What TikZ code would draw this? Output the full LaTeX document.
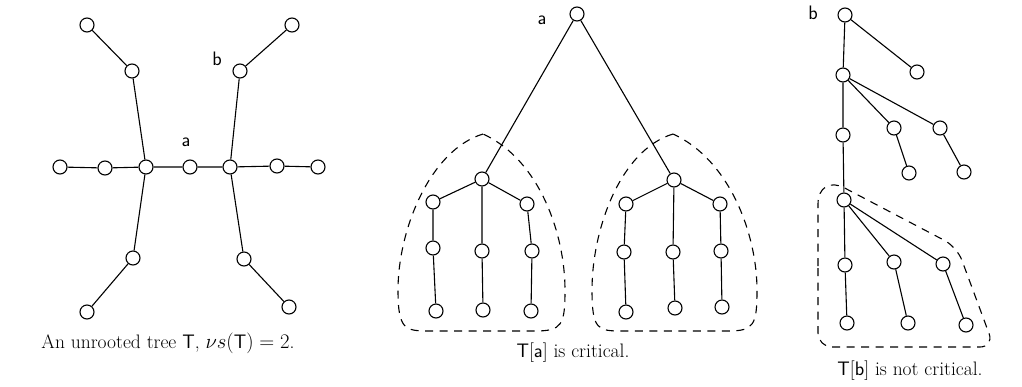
\documentclass[tikz,border=0pt]{standalone}
\begin{document}
\begin{tikzpicture}[x=1pt,y=-1pt,
  vtx/.style={circle,draw,line width=1.1pt,fill=white,minimum size=14pt,inner sep=0pt},
  edge/.style={line width=1.1pt},
  region/.style={line width=1.1pt,dash pattern=on 8pt off 6.5pt},
  lbl/.style={font=\fontsize{19.5}{23}\selectfont\sffamily},
  captxt/.style={font=\fontsize{19.5}{23}\selectfont}]
\useasboundingbox (0,0) rectangle (1022,386);
% ---------- left tree ----------
\node[vtx] (l1) at (87,25) {};
\node[vtx] (l2) at (132,71) {};
\node[vtx] (lh) at (146,167) {};
\node[vtx] (l3) at (60,167) {};
\node[vtx] (l4) at (105,168) {};
\node[vtx] (la) at (190,167) {};
\node[vtx] (rh) at (230,167) {};
\node[vtx] (r3) at (277,166) {};
\node[vtx] (r4) at (318,167) {};
\node[vtx] (r2) at (240,71) {};
\node[vtx] (r1) at (292,25) {};
\node[vtx] (l5) at (133,258) {};
\node[vtx] (l6) at (87,312) {};
\node[vtx] (r5) at (244,259) {};
\node[vtx] (r6) at (289,307) {};
\node[lbl] (tla) at (186,142) {a};
\node[lbl] (tlb) at (217,59) {b};
\draw[edge] (l1) -- (l2) -- (lh) -- (l5) -- (l6);
\draw[edge] (l3) -- (l4) -- (lh) -- (la) -- (rh) -- (r3) -- (r4);
\draw[edge] (r1) -- (r2) -- (rh) -- (r5) -- (r6);
\node[captxt] (c1) at (168,343) {An unrooted tree \textsf{T}, $\nu s(\textsf{T})=2$.};
% ---------- middle tree ----------
\node[vtx] (ma) at (577,14) {};
\node[lbl] (mal) at (542,20) {a};
\node[vtx] (A) at (482,179) {};
\node[vtx] (A1) at (433,202) {};
\node[vtx] (A2) at (482,251) {};
\node[vtx] (A3) at (527,204) {};
\node[vtx] (A1b) at (433,248) {};
\node[vtx] (A3b) at (532,251) {};
\node[vtx] (A1c) at (436,311) {};
\node[vtx] (A2c) at (483,310) {};
\node[vtx] (A3c) at (531,311) {};
\node[vtx] (B) at (674,180) {};
\node[vtx] (B1) at (626,204) {};
\node[vtx] (B2) at (673,252) {};
\node[vtx] (B3) at (720,204) {};
\node[vtx] (B1b) at (624,252) {};
\node[vtx] (B3b) at (721,251) {};
\node[vtx] (B1c) at (626,312) {};
\node[vtx] (B2c) at (675,308) {};
\node[vtx] (B3c) at (722,307) {};
\draw[edge] (ma) -- (A); \draw[edge] (ma) -- (B);
\draw[edge] (A) -- (A1) -- (A1b) -- (A1c);
\draw[edge] (A) -- (A2) -- (A2c);
\draw[edge] (A) -- (A3) -- (A3b) -- (A3c);
\draw[edge] (B) -- (B1) -- (B1b) -- (B1c);
\draw[edge] (B) -- (B2) -- (B2c);
\draw[edge] (B) -- (B3) -- (B3b) -- (B3c);
\draw[region] (483,134) .. controls (430,150) and (398,230) .. (398,290)
  .. controls (398,330) and (405,331) .. (430,331) -- (535,331)
  .. controls (562,331) and (565,325) .. (565,290)
  .. controls (565,235) and (540,160) .. cycle;
\draw[region] (673,134) .. controls (620,150) and (592,230) .. (592,290)
  .. controls (592,330) and (598,331) .. (622,331) -- (728,331)
  .. controls (754,331) and (757,325) .. (757,290)
  .. controls (757,235) and (730,160) .. cycle;
\node[captxt] (c2) at (573,353) {\textsf{T}[\textsf{a}] is critical.};
% ---------- right tree ----------
\node[vtx] (b0) at (845,15) {};
\node[lbl] (bl) at (813,13) {b};
\node[vtx] (b1) at (917,72) {};
\node[vtx] (b2) at (843,75) {};
\node[vtx] (b3) at (843,135) {};
\node[vtx] (b21) at (894,128) {};
\node[vtx] (b22) at (940,128) {};
\node[vtx] (b21c) at (909,173) {};
\node[vtx] (b22c) at (964,172) {};
\node[vtx] (b4) at (844,200) {};
\node[vtx] (b41) at (845,265) {};
\node[vtx] (b42) at (894,262) {};
\node[vtx] (b43) at (943,264) {};
\node[vtx] (b41c) at (847,323) {};
\node[vtx] (b42c) at (908,323) {};
\node[vtx] (b43c) at (966,325) {};
\draw[edge] (b0) -- (b1);
\draw[edge] (b0) -- (b2) -- (b3) -- (b4) -- (b41) -- (b41c);
\draw[edge] (b2) -- (b21) -- (b21c);
\draw[edge] (b2) -- (b22) -- (b22c);
\draw[edge] (b4) -- (b42) -- (b42c);
\draw[edge] (b4) -- (b43) -- (b43c);
\draw[region] (818,280) [rounded corners=30pt] -- (818,174) [rounded corners=14pt] -- (957,247) -- (994,347) -- (818,347) -- cycle;
\node[captxt] (c3) at (910,371) {\textsf{T}[\textsf{b}] is not critical.};
\end{tikzpicture}
\end{document}
